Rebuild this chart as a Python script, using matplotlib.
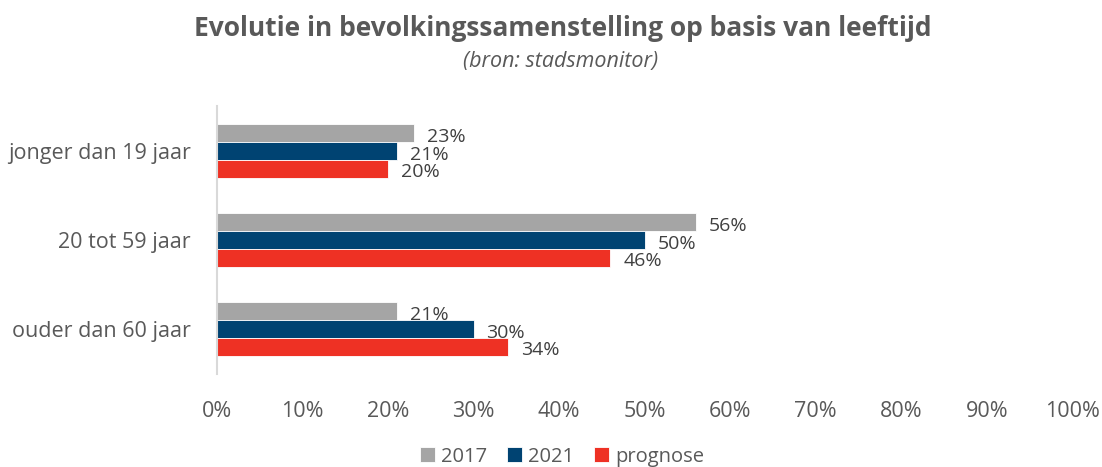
import matplotlib.pyplot as plt
import numpy as np

plt.rcParams['font.family'] = ['Open Sans', 'DejaVu Sans']

categories = ['jonger dan 19 jaar', '20 tot 59 jaar', 'ouder dan 60 jaar']
series = ['2017', '2021', 'prognose']
v2017 = [23, 56, 21]
v2021 = [21, 50, 30]
vprog = [20, 46, 34]
colors = ['#a5a5a5', '#004372', '#ee3124']
xticks = [0, 10, 20, 30, 40, 50, 60, 70, 80, 90, 100]

fig = plt.figure(figsize=(11.02, 4.67), dpi=100)
ax = fig.add_axes([0.197, 0.200, 0.776, 0.572])

y = np.arange(len(categories))
h = 0.2
for i, (vals, c, lab) in enumerate(zip([v2017, v2021, vprog], colors, series)):
    pos = y + (i - 1) * h
    ax.barh(pos, vals, height=h, color=c, label=lab, edgecolor='white', linewidth=0.6)
    for p, v in zip(pos, vals):
        ax.text(v + 1.5, p + 0.04, f'{v}%', va='center', ha='left', fontsize=14, color='#404040')

ax.set_ylim(2.5, -0.5)
ax.set_xlim(0, 100)
ax.set_yticks(y)
ax.set_yticklabels(categories, fontsize=15.5, color='#595959')
ax.set_xticks(xticks)
ax.set_xticklabels([f'{t}%' for t in xticks], fontsize=15.5, color='#595959')
ax.tick_params(axis='both', length=0)
ax.tick_params(axis='y', pad=19)
ax.tick_params(axis='x', pad=20)
for s in ['top', 'right', 'bottom']:
    ax.spines[s].set_visible(False)
ax.spines['left'].set_color('#d9d9d9')
ax.spines['left'].set_linewidth(1.5)

fig.text(0.511, 0.94, 'Evolutie in bevolkingssamenstelling op basis van leeftijd',
         ha='center', va='center', fontsize=19, fontweight='bold', color='#595959')
fig.text(0.509, 0.868, '(bron: stadsmonitor)', ha='center', va='center',
         fontsize=15.5, style='italic', color='#595959')

fig.legend(loc='center', bbox_to_anchor=(0.510, 0.022), ncol=3, frameon=False,
           fontsize=14.5, labelcolor='#595959', handlelength=0.75, handleheight=0.75,
           handletextpad=0.3, columnspacing=1.0)

fig.savefig('out.png', dpi=100)
